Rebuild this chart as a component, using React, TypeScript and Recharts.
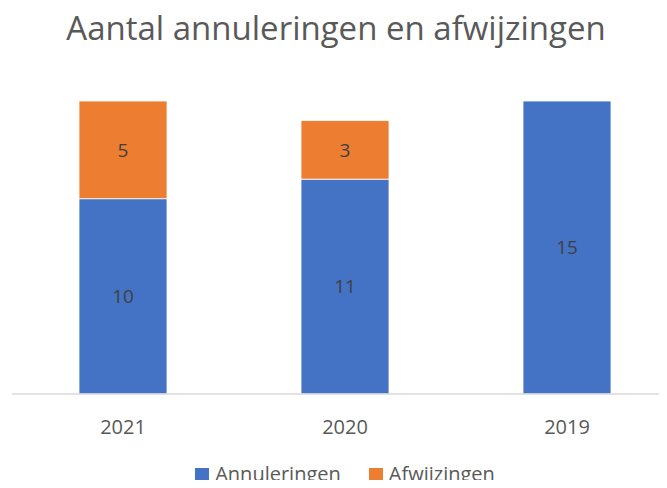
import React from 'react';
import { BarChart, Bar, XAxis, YAxis, Legend, LabelList } from 'recharts';

const years = ['2021', '2020', '2019'];
const annuleringen = [10, 11, 15];
const afwijzingen = [5, 3, 0];
const seriesNames = ['Annuleringen', 'Afwijzingen'];

const data = years.map((year, i) => ({
  year,
  Annuleringen: annuleringen[i],
  Afwijzingen: afwijzingen[i],
}));

const font = '"Open Sans", sans-serif';

const renderLegend = (props: any) => {
  const items = [...(props.payload || [])].sort(
    (a: any, b: any) => seriesNames.indexOf(a.value) - seriesNames.indexOf(b.value)
  );
  return (
    <div style={{ display: 'flex', justifyContent: 'center', fontFamily: font, fontSize: 20, lineHeight: '24px', color: '#595959' }}>
      {items.map((it: any) => (
        <div key={it.value} style={{ display: 'flex', alignItems: 'center', marginRight: 14, marginLeft: 14 }}>
          <span style={{ width: 14, height: 13, background: it.color, display: 'inline-block', marginRight: 6 }} />
          <span>{it.value}</span>
        </div>
      ))}
    </div>
  );
};

export default function App() {
  return (
    <div style={{ margin: -8, width: 667, height: 488, position: 'relative', overflow: 'hidden', background: '#fff', fontFamily: font }}>
      <div style={{ position: 'absolute', top: 5, left: 0, width: 672, textAlign: 'center', fontSize: 33, color: '#595959' }}>
        Aantal annuleringen en afwijzingen
      </div>
      <div style={{ position: 'absolute', top: 0, left: 0 }}>
        <BarChart width={690} height={488} data={data} margin={{ top: 101, right: 12, bottom: 30, left: 12 }}>
          <YAxis hide domain={[0, 15]} />
          <XAxis
            dataKey="year"
            axisLine={{ stroke: '#D9D9D9', strokeWidth: 1.5 }}
            tickLine={false}
            tick={{ fill: '#595959', fontSize: 20, fontFamily: font }}
            tickMargin={20}
            height={40}
          />
          <Legend
            verticalAlign="bottom"
            content={renderLegend}
            wrapperStyle={{ bottom: 2 }}
          />
          <Bar dataKey="Annuleringen" stackId="a" fill="#4472C4" stroke="#ffffff" strokeWidth={0.8} barSize={88} isAnimationActive={false}>
            <LabelList dataKey="Annuleringen" position="center" fill="#404040" fontSize={19} fontFamily={font} />
          </Bar>
          <Bar dataKey="Afwijzingen" stackId="a" fill="#ED7D31" stroke="#ffffff" strokeWidth={0.8} barSize={88} isAnimationActive={false}>
            <LabelList dataKey="Afwijzingen" position="center" fill="#404040" fontSize={19} fontFamily={font} formatter={(v: any) => (v ? v : '')} />
          </Bar>
        </BarChart>
      </div>
    </div>
  );
}
